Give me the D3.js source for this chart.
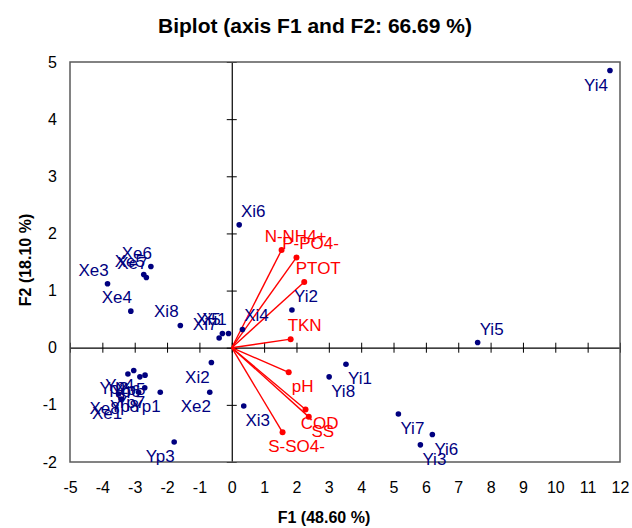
<!DOCTYPE html>
<html>
<head>
<meta charset="utf-8">
<script src="https://cdn.jsdelivr.net/npm/d3@7"></script>
<style>
  body { margin: 0; background: #fff; }
  text { font-family: "Liberation Sans", Arial, sans-serif; }
</style>
</head>
<body>
<div id="chart"></div>
<script>
// observations (F1, F2 scores)
const obsNames = ["Yi4", "Yi5", "Yi1", "Yi8", "Yi7", "Yi6", "Yi3", "Yi2",
  "Xi6", "Xi4", "Xi3", "Xi2", "Xi5", "Xi1", "Xi7", "Xi8",
  "Xe2", "Xe3", "Xe4", "Xe6", "Xe5", "Xe7",
  "Yp3", "Yp2", "Yp4", "Yp6", "Yp5", "Yp7", "Yp8", "Yp1", "Xe8", "Xe1"];
const obsF1 = [11.69, 7.60, 3.53, 3.01, 5.15, 6.20, 5.83, 1.86,
  0.23, 0.33, 0.37, -0.63, -0.29, -0.10, -0.39, -1.59,
  -0.68, -3.84, -3.12, -2.50, -2.72, -2.64,
  -1.78, -3.21, -3.03, -2.84, -2.68, -2.69, -2.88, -2.21, -3.50, -3.42];
const obsF2 = [4.85, 0.09, -0.29, -0.51, -1.16, -1.52, -1.70, 0.66,
  2.15, 0.32, -1.02, -0.26, 0.25, 0.25, 0.17, 0.39,
  -0.78, 1.12, 0.64, 1.42, 1.28, 1.23,
  -1.65, -0.46, -0.40, -0.51, -0.48, -0.70, -0.78, -0.78, -0.81, -0.90];

// variables (loadings, scaled)
const varNames = ["N-NH4+", "P-PO4-", "PTOT", "TKN", "pH", "COD", "SS", "S-SO4-"];
const varF1 = [1.54, 2.00, 2.24, 1.82, 1.76, 2.28, 2.38, 1.57];
const varF2 = [1.71, 1.58, 1.15, 0.15, -0.43, -1.08, -1.21, -1.48];

const xTicks = [-5, -4, -3, -2, -1, 0, 1, 2, 3, 4, 5, 6, 7, 8, 9, 10, 11, 12];
const yTicks = [-2, -1, 0, 1, 2, 3, 4, 5];

const W = 632, H = 528;
const margin = {top: 62, right: 12, bottom: 66, left: 70};
const width = W - margin.left - margin.right;
const height = H - margin.top - margin.bottom;

const obsColor = "#00007f";
const varColor = "#ff0000";
const plain = d => String(d);   // hyphen minus, as in the original

const svg = d3.select("#chart").append("svg")
    .attr("width", W)
    .attr("height", H);

const g = svg.append("g")
    .attr("transform", `translate(${margin.left},${margin.top})`);

const x = d3.scaleLinear().domain([-5, 12]).range([0, width]);
const y = d3.scaleLinear().domain([-2, 5]).range([height, 0]);

// tick labels round the frame
g.append("g")
    .attr("transform", `translate(0,${height})`)
    .call(d3.axisBottom(x).tickValues(xTicks).tickFormat(plain).tickSize(0).tickPadding(20))
    .call(a => a.select(".domain").remove())
    .selectAll("text").style("font-size", "16px").attr("fill", "#000");

g.append("g")
    .call(d3.axisLeft(y).tickValues(yTicks).tickFormat(plain).tickSize(0).tickPadding(13))
    .call(a => a.select(".domain").remove())
    .selectAll("text").style("font-size", "16px").attr("fill", "#000");

// zero axes with crossing ticks
const zx = g.append("g")
    .attr("transform", `translate(0,${y(0)})`)
    .call(d3.axisBottom(x).tickValues(xTicks).tickFormat("").tickSizeOuter(0));
zx.selectAll(".tick line").attr("y1", -5).attr("y2", 5).attr("stroke", "#000");
zx.select(".domain").attr("stroke", "#000").attr("stroke-width", 1.2);

const zy = g.append("g")
    .attr("transform", `translate(${x(0)},0)`)
    .call(d3.axisLeft(y).tickValues(yTicks).tickFormat("").tickSizeOuter(0));
zy.selectAll(".tick line").attr("x1", -5).attr("x2", 5).attr("stroke", "#000");
zy.select(".domain").attr("stroke", "#000").attr("stroke-width", 1.2);

// frame
g.append("rect")
    .attr("width", width)
    .attr("height", height)
    .attr("fill", "none")
    .attr("stroke", "#5a5a5a")
    .attr("stroke-width", 1.5);

// place a label off the point, away from the origin, kept inside the frame
function placeLabel(sel, xv, yv, color) {
    const t = g.append("text")
        .text(sel)
        .attr("fill", color)
        .style("font-size", "17px")
        .attr("text-anchor", "middle")
        .attr("dy", "0.35em");
    const w = t.node().getComputedTextLength();
    let right = xv >= 0, up = yv >= 0;
    if (right && x(xv) + 14 + w / 2 > width) { right = false; up = false; }
    t.attr("x", x(xv) + (right ? 14 : -14))
     .attr("y", y(yv) + (up ? -14 : 14));
}

// variable vectors
varNames.forEach((name, i) => {
    g.append("line")
        .attr("x1", x(0)).attr("y1", y(0))
        .attr("x2", x(varF1[i])).attr("y2", y(varF2[i]))
        .attr("stroke", varColor)
        .attr("stroke-width", 1.4);
    g.append("circle")
        .attr("cx", x(varF1[i])).attr("cy", y(varF2[i]))
        .attr("r", 3)
        .attr("fill", varColor);
});
varNames.forEach((name, i) => placeLabel(name, varF1[i], varF2[i], varColor));

// observations
g.selectAll(".obs")
    .data(obsNames)
  .enter().append("circle")
    .attr("class", "obs")
    .attr("cx", (d, i) => x(obsF1[i]))
    .attr("cy", (d, i) => y(obsF2[i]))
    .attr("r", 2.8)
    .attr("fill", obsColor);
obsNames.forEach((name, i) => placeLabel(name, obsF1[i], obsF2[i], obsColor));

// titles
svg.append("text")
    .attr("x", 315)
    .attr("y", 33)
    .attr("text-anchor", "middle")
    .style("font-size", "21px")
    .style("font-weight", "bold")
    .text("Biplot (axis F1 and F2: 66.69 %)");

svg.append("text")
    .attr("x", 324)
    .attr("y", 523)
    .attr("text-anchor", "middle")
    .style("font-size", "16px")
    .style("font-weight", "bold")
    .text("F1 (48.60 %)");

svg.append("text")
    .attr("transform", "translate(31,260) rotate(-90)")
    .attr("text-anchor", "middle")
    .style("font-size", "16px")
    .style("font-weight", "bold")
    .text("F2 (18.10 %)");
</script>
</body>
</html>
